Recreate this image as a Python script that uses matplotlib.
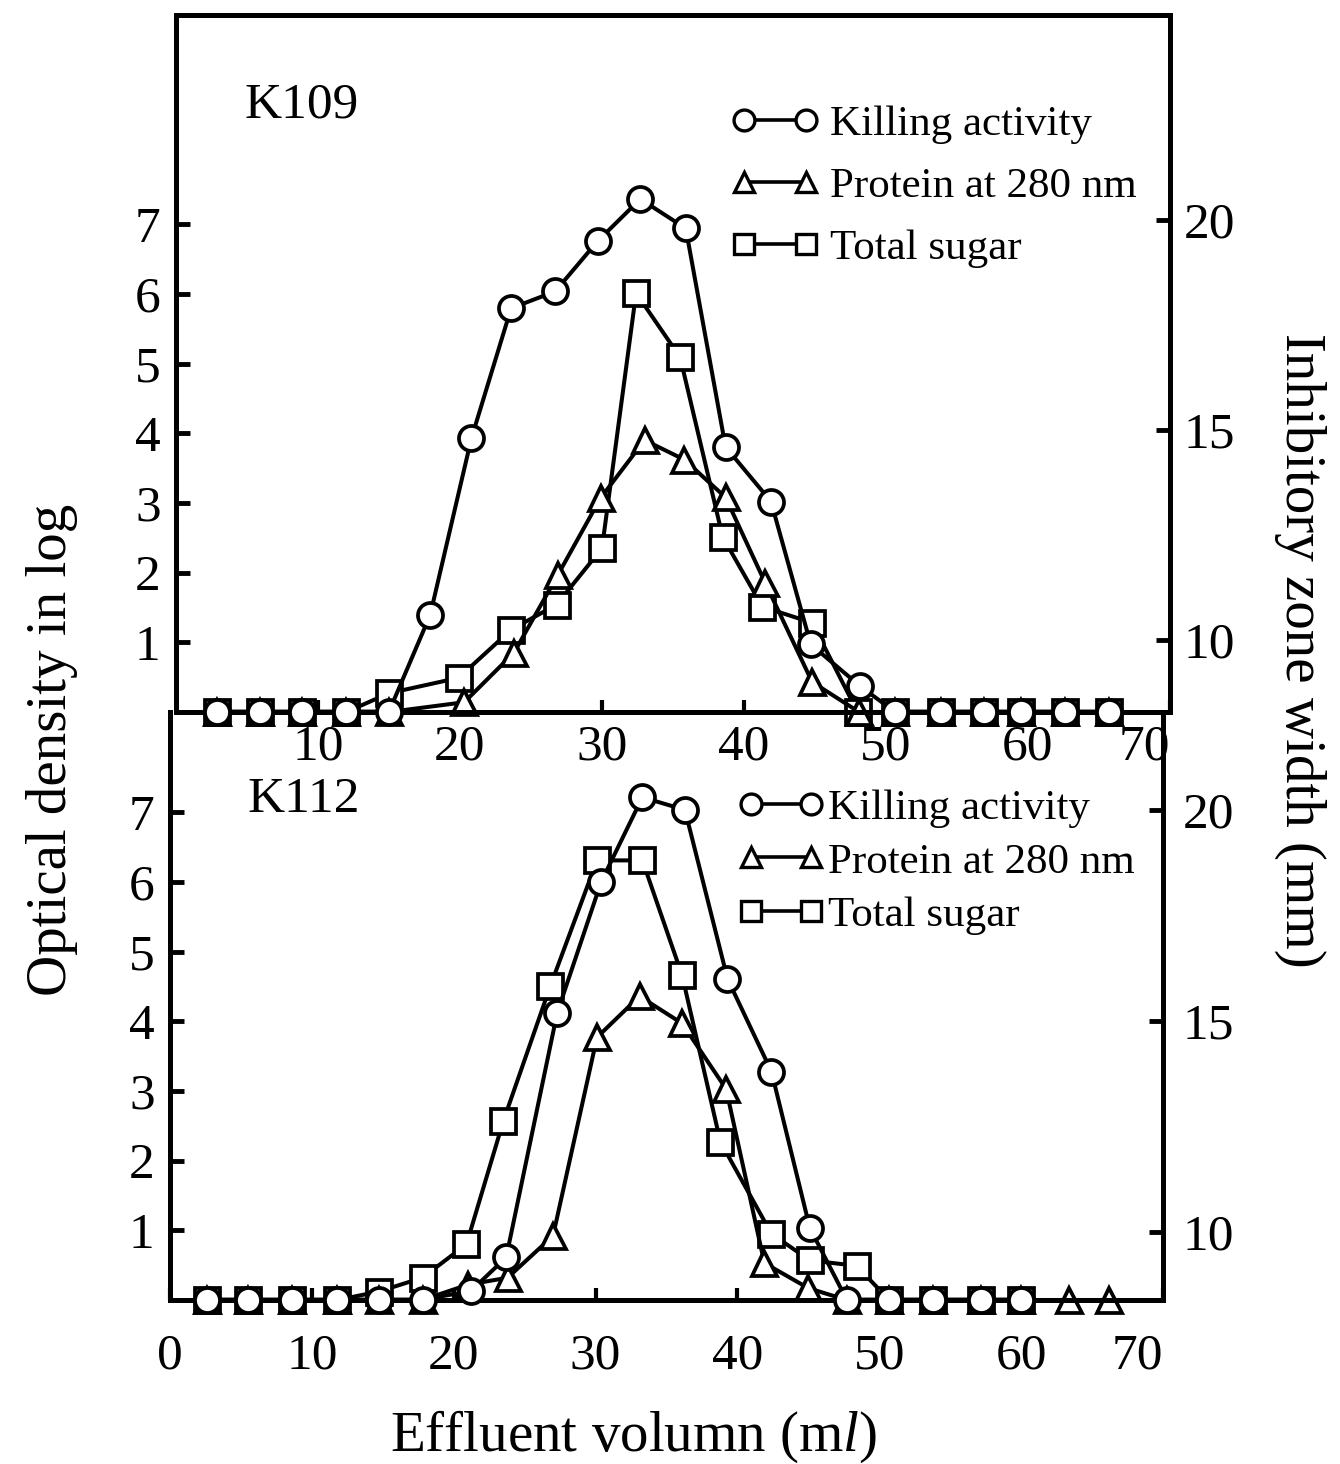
import matplotlib
matplotlib.use("Agg")
import matplotlib.pyplot as plt
from matplotlib.lines import Line2D

# ---------------- data ----------------
# K109 (upper panel)
k109_kill_ml = [2.9, 5.9, 8.9, 12.0, 15.0, 17.9, 20.8, 23.6, 26.7, 29.7, 32.7, 35.9, 38.7,
                41.9, 44.7, 48.2, 50.6, 53.9, 56.9, 59.5, 62.6, 65.7]
k109_kill_mm = [8.3, 8.3, 8.3, 8.3, 8.3, 10.6, 14.8, 17.9, 18.3, 19.5, 20.5, 19.8, 14.6,
                13.3, 9.9, 8.9, 8.3, 8.3, 8.3, 8.3, 8.3, 8.3]
k109_prot_ml = [2.9, 5.9, 8.9, 12.0, 15.0, 20.3, 23.8, 26.9, 29.9, 33.0, 35.8, 38.7, 41.5,
                44.8, 48.1, 50.6, 53.9, 56.9, 59.5, 62.6, 65.7]
k109_prot_od = [0, 0, 0, 0, 0, 0.14, 0.85, 1.97, 3.07, 3.90, 3.62, 3.08, 1.85,
                0.43, 0, 0, 0, 0, 0, 0, 0]
k109_sugar_ml = [2.9, 5.9, 8.9, 12.0, 15.0, 19.9, 23.6, 26.8, 30.0, 32.4, 35.5, 38.5, 41.3,
                 44.8, 48.0, 50.6, 53.9, 56.9, 59.5, 62.6, 65.7]
k109_sugar_od = [0, 0, 0, 0, 0.27, 0.49, 1.18, 1.54, 2.35, 6.01, 5.09, 2.51, 1.51,
                 1.28, 0, 0, 0, 0, 0, 0, 0]

# K112 (lower panel)
k112_kill_ml = [2.6, 5.5, 8.6, 11.8, 14.7, 17.8, 21.2, 23.7, 27.3, 30.4, 33.3, 36.3, 39.3,
                42.4, 45.1, 47.7, 50.7, 53.8, 57.2, 60.0]
k112_kill_mm = [8.4, 8.4, 8.4, 8.4, 8.4, 8.4, 8.6, 9.4, 15.2, 18.3, 20.3, 20.0, 16.0,
                13.8, 10.1, 8.4, 8.4, 8.4, 8.4, 8.4]
k112_prot_ml = [2.6, 5.5, 8.6, 11.8, 14.7, 17.8, 21.0, 23.8, 27.0, 30.1, 33.1, 36.1, 39.2,
                41.9, 45.0, 47.7, 50.7, 53.8, 57.2, 60.0, 63.4, 66.2]
k112_prot_od = [0, 0, 0, 0, 0, 0, 0.22, 0.32, 0.92, 3.77, 4.36, 3.97, 3.03,
                0.53, 0.17, 0, 0, 0, 0, 0, 0, 0]
k112_sugar_ml = [2.6, 5.5, 8.6, 11.8, 14.7, 17.8, 20.9, 23.5, 26.8, 30.1, 33.3, 36.1, 38.8,
                 42.4, 45.1, 48.4, 50.7, 53.8, 57.2, 60.0]
k112_sugar_od = [0, 0, 0, 0, 0.12, 0.32, 0.80, 2.57, 4.50, 6.31, 6.31, 4.66, 2.27,
                 0.95, 0.57, 0.49, 0, 0, 0, 0]

series_labels = ["Killing activity", "Protein at 280 nm", "Total sugar"]
panel_names = ["K109", "K112"]
top_xticks = [10, 20, 30, 40, 50, 60, 70]
bot_xticks = [0, 10, 20, 30, 40, 50, 60, 70]
left_yticks = [1, 2, 3, 4, 5, 6, 7]
right_yticks = [10, 15, 20]
xlabel = "Effluent volumn (m$\\mathit{l}$)"
ylabel_left = "Optical density in log"
ylabel_right = "Inhibitory zone width (mm)"

# ---------------- style ----------------
plt.rcParams['font.family'] = ['Liberation Serif', 'DejaVu Serif']
plt.rcParams['mathtext.fontset'] = 'custom'
plt.rcParams['mathtext.rm'] = 'Liberation Serif'
plt.rcParams['mathtext.it'] = 'Liberation Serif:italic'

W, H = 1340, 1464
fig = plt.figure(figsize=(W / 100, H / 100), dpi=100)
fig.patch.set_facecolor('white')

ax_top = fig.add_axes([176 / W, 1 - 712 / H, 994 / W, 697 / H])
ax_bot = fig.add_axes([170 / W, 1 - 1300 / H, 993 / W, 588 / H])
ax_bot.patch.set_visible(False)
ax_top.patch.set_visible(False)

line_kw = dict(color='black', lw=2.9, mfc='white', mec='black', mew=2.7, ms=18,
               clip_on=False)
SPINE_W = 3.6
TICK_FS = 37


def style_axes(ax, ax2, xlim, ylim, y2lim, xticks, xpad, r_pad):
    ax.set_xlim(*xlim)
    ax.set_ylim(*ylim)
    ax2.set_ylim(*y2lim)
    ax.set_xticks(xticks)
    ax.set_xticklabels([str(t) for t in xticks])
    ax.set_yticks(left_yticks)
    ax.set_yticklabels([str(t) for t in left_yticks])
    ax2.set_yticks(right_yticks)
    ax2.set_yticklabels([str(t) for t in right_yticks])
    ax.tick_params(axis='x', direction='in', length=9, width=3, labelsize=TICK_FS,
                   pad=xpad)
    ax.tick_params(axis='y', direction='in', length=10, width=3.5, labelsize=TICK_FS,
                   pad=11)
    ax2.tick_params(axis='y', direction='in', length=10, width=3.5, labelsize=TICK_FS,
                    pad=r_pad)
    for a in (ax, ax2):
        for s in a.spines.values():
            s.set_linewidth(SPINE_W)
    ax.spines['right'].set_visible(False)
    # last x label sits just inside the right frame edge
    ax.get_xticklabels()[-1].set_horizontalalignment('right')


def draw_panel(ax, kill_ml, kill_mm, prot_ml, prot_od, sugar_ml, sugar_od):
    ax.plot(sugar_ml, sugar_od, marker='s', zorder=3, **line_kw)
    ax.plot(prot_ml, prot_od, marker='^', zorder=4, **line_kw)
    ax2 = ax.twinx()
    ax2.plot(kill_ml, kill_mm, marker='o', zorder=5, **line_kw)
    return ax2


ax_top2 = draw_panel(ax_top, k109_kill_ml, k109_kill_mm, k109_prot_ml, k109_prot_od,
                     k109_sugar_ml, k109_sugar_od)
ax_bot2 = draw_panel(ax_bot, k112_kill_ml, k112_kill_mm, k112_prot_ml, k112_prot_od,
                     k112_sugar_ml, k112_sugar_od)

style_axes(ax_top, ax_top2, (0, 69.5), (0, 10), (8.29, 24.88), top_xticks, 9, 10)
style_axes(ax_bot, ax_bot2, (0, 70), (0, 8.44), (8.39, 22.32), bot_xticks, 24, 14)
ax_bot.spines['top'].set_visible(False)
ax_bot2.spines['top'].set_visible(False)

# legends
leg_kw = dict(color='black', lw=2.6, mfc='white', mec='black', mew=2.4, ms=15)
handles = [Line2D([], [], marker='o', **leg_kw),
           Line2D([], [], marker='^', **leg_kw),
           Line2D([], [], marker='s', **leg_kw)]
ax_top2.legend(handles, series_labels, loc='upper left', bbox_to_anchor=(0.558, 0.871),
               frameon=False, numpoints=2, handlelength=2.05, handletextpad=0.25,
               labelspacing=0.53, fontsize=31, borderpad=0, borderaxespad=0)
ax_bot2.legend(handles, series_labels, loc='upper left', bbox_to_anchor=(0.572, 0.869),
               frameon=False, numpoints=2, handlelength=2.0, handletextpad=0.1,
               labelspacing=0.33, fontsize=31, borderpad=0, borderaxespad=0)

# panel names
ax_top2.text(0.069, 0.871, panel_names[0], transform=ax_top.transAxes, fontsize=37,
             ha='left', va='center')
ax_bot2.text(0.0785, 0.85, panel_names[1], transform=ax_bot.transAxes, fontsize=37,
             ha='left', va='center')

# axis titles
fig.text(52 / W, 1 - 750 / H, ylabel_left, rotation=90, ha='center', va='center',
         fontsize=41)
fig.text(1300 / W, 1 - 650 / H, ylabel_right, rotation=270, ha='center', va='center',
         fontsize=41)
fig.text(634 / W, 1 - 1437 / H, xlabel, ha='center', va='center', fontsize=41)

fig.savefig("out.png", dpi=100, facecolor='white')
